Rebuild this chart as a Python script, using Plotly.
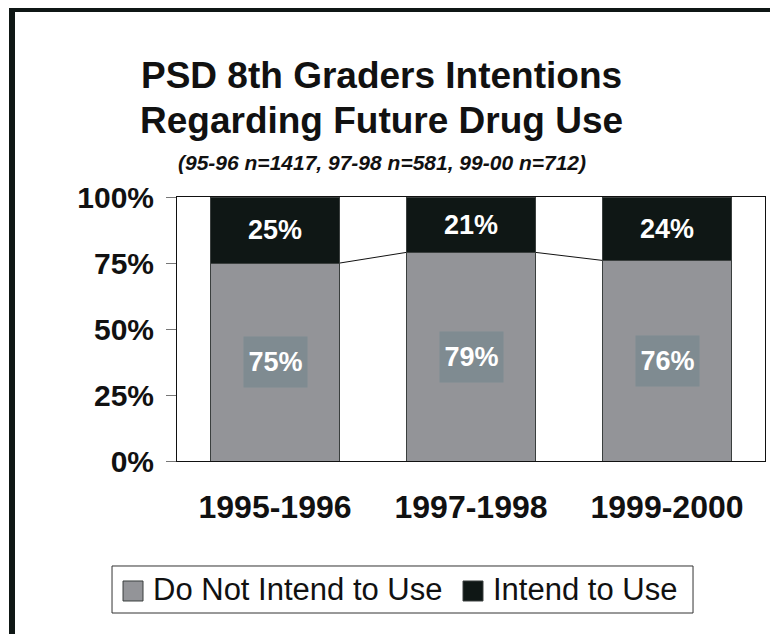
import plotly.graph_objects as go

categories = ["1995-1996", "1997-1998", "1999-2000"]
do_not_intend = [75, 79, 76]
intend = [25, 21, 24]
y_ticks = [0, 25, 50, 75, 100]
y_tick_labels = ["0%", "25%", "50%", "75%", "100%"]
series_names = ["Do Not Intend to Use", "Intend to Use"]
title_lines = ["PSD 8th Graders Intentions", "Regarding Future Drug Use"]
subtitle = "(95-96 n=1417, 97-98 n=581, 99-00 n=712)"

FONT = "Liberation Sans, Arial, sans-serif"
GRAY = "#939498"
BLACK = "#0f1715"
BOXC = "#7f8b91"
EDGE = "#3a3f3e"
BAR_W = 0.663

xs = list(range(len(categories)))
series_colors = [GRAY, BLACK]

fig = go.Figure()
fig.add_trace(go.Bar(x=xs, y=do_not_intend, name=series_names[0], width=BAR_W,
                     marker=dict(color=GRAY, line=dict(color=EDGE, width=1)),
                     hoverinfo="skip", showlegend=False))
fig.add_trace(go.Bar(x=xs, y=intend, name=series_names[1], width=BAR_W,
                     marker=dict(color=BLACK, line=dict(color=EDGE, width=1)),
                     hoverinfo="skip", showlegend=False))

# series lines connecting tops of the lower segments
for i in range(len(xs) - 1):
    fig.add_trace(go.Scatter(x=[xs[i] + BAR_W / 2, xs[i + 1] - BAR_W / 2],
                             y=[do_not_intend[i], do_not_intend[i + 1]],
                             mode="lines", line=dict(color="#111", width=1),
                             showlegend=False, hoverinfo="skip"))

annotations = []
for i, x in enumerate(xs):
    annotations.append(dict(x=x, y=do_not_intend[i] / 2, xref="x", yref="y",
                            text=f"<b>{do_not_intend[i]}%</b>", showarrow=False,
                            font=dict(family=FONT, size=27, color="white"),
                            bgcolor=BOXC, width=63, height=50, borderpad=0,
                            xanchor="center", yanchor="middle"))
    annotations.append(dict(x=x, y=do_not_intend[i] + intend[i] / 2, xref="x", yref="y",
                            text=f"<b>{intend[i]}%</b>", showarrow=False,
                            font=dict(family=FONT, size=27, color="white"),
                            xanchor="center", yanchor="middle"))

annotations.append(dict(x=0.3486, y=1.462, xref="paper", yref="paper",
                        text=f"<b>{title_lines[0]}</b>", showarrow=False,
                        font=dict(family=FONT, size=37, color="#111"),
                        xanchor="center", yanchor="middle"))
annotations.append(dict(x=0.3486, y=1.288, xref="paper", yref="paper",
                        text=f"<b>{title_lines[1]}</b>", showarrow=False,
                        font=dict(family=FONT, size=37, color="#111"),
                        xanchor="center", yanchor="middle"))
annotations.append(dict(x=0.3486, y=1.129, xref="paper", yref="paper",
                        text=f"<b><i>{subtitle}</i></b>", showarrow=False,
                        font=dict(family=FONT, size=21, color="#111"),
                        xanchor="center", yanchor="middle"))

shapes = [dict(type="path", xref="paper", yref="paper",
               path="M -0.2806,-0.75 L -0.2806,1.7121 L 1.1,1.7121",
               line=dict(color=BLACK, width=6))]

# custom legend (box, swatches, labels)
shapes.append(dict(type="rect", xref="paper", yref="paper",
                   x0=-0.1105, x1=0.8776, y0=-0.5758, y1=-0.3977,
                   line=dict(color="#333", width=1), fillcolor="white"))
swatch_x = [-0.0918, 0.4864]
label_x = [-0.0425, 0.5357]
for k in range(len(series_names)):
    shapes.append(dict(type="rect", xref="paper", yref="paper",
                       x0=swatch_x[k], x1=swatch_x[k] + 0.034, y0=-0.5303, y1=-0.4545,
                       line=dict(color=EDGE, width=1), fillcolor=series_colors[k]))
    annotations.append(dict(x=label_x[k], y=-0.4886, xref="paper", yref="paper",
                            text=series_names[k], showarrow=False,
                            font=dict(family=FONT, size=31, color="#111"),
                            xanchor="left", yanchor="middle", borderpad=0))

fig.update_layout(
    width=778, height=634,
    margin=dict(l=169, r=21, t=189, b=181),
    paper_bgcolor="white", plot_bgcolor="white",
    barmode="stack",
    showlegend=False,
    annotations=annotations,
    shapes=shapes,
    xaxis=dict(range=[-0.5, 2.5], tickvals=xs,
               ticktext=[f"<b>{c}</b>" for c in categories],
               tickfont=dict(family=FONT, size=32, color="#111"),
               showgrid=False, zeroline=False, showline=True, linecolor="#111",
               linewidth=1, mirror=True, ticks="", ticklabelstandoff=18),
    yaxis=dict(range=[0, 100], tickvals=y_ticks,
               ticktext=[f"<b>{t}</b>" for t in y_tick_labels],
               tickfont=dict(family=FONT, size=30, color="#111"),
               showgrid=False, zeroline=False, showline=True, linecolor="#111",
               linewidth=1, mirror=True, ticks="outside", ticklen=10,
               tickcolor="#777", tickwidth=1, ticklabelstandoff=6),
    font=dict(family=FONT),
)

fig.write_html("out.html")
